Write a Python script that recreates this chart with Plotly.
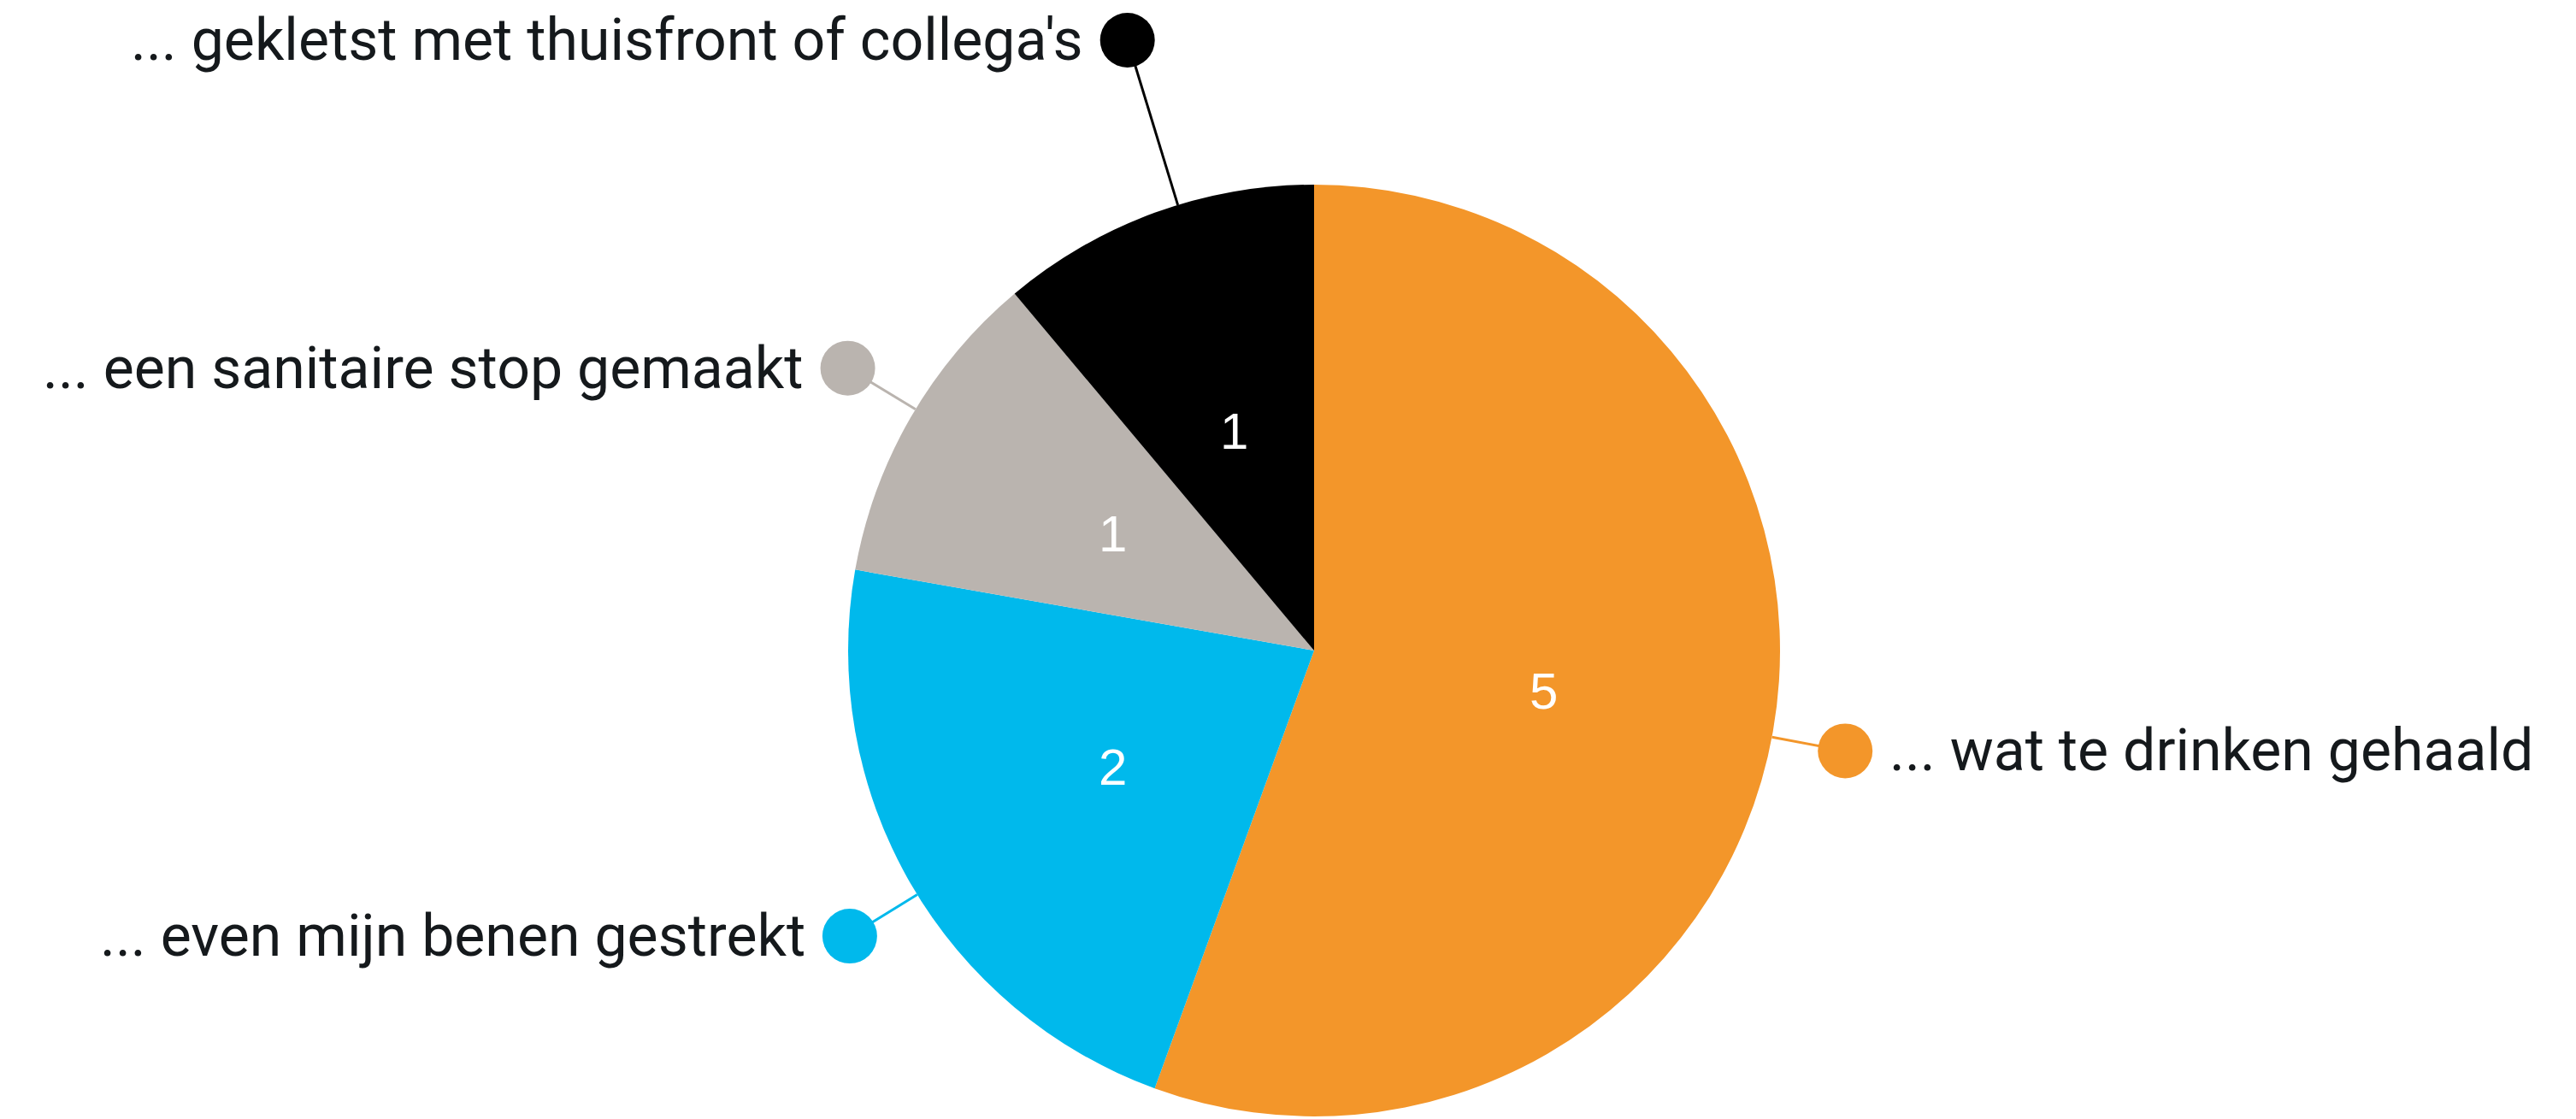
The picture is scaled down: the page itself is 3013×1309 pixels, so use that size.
import math
import plotly.graph_objects as go

# Survey answers: what people did during their break
labels = [
    "... wat te drinken gehaald",
    "... even mijn benen gestrekt",
    "... een sanitaire stop gemaakt",
    "... gekletst met thuisfront of collega's",
]
counts = [5, 2, 1, 1]
colors = ["#F3962A", "#00B9EC", "#BAB4AF", "#000000"]

W, H = 3013, 1309
CX, CY, R = 1537, 761, 545  # pie centre and radius in pixels

# distance of each label dot from the centre, as a multiple of the radius,
# plus a small angular nudge (degrees) so labels clear each other
dot_radius = [1.16, 1.17, 1.17, 1.37]
dot_nudge = [0.7, -1.6, 1.2, 3.0]
DOT_R = 32
TEXT_GAP = 18


def px(x, y):
    """pixel position -> paper coordinates"""
    return x / W, 1 - y / H


def polar(angle_deg, r):
    a = math.radians(angle_deg)
    return CX + r * math.sin(a), CY - r * math.cos(a)


fig = go.Figure(
    go.Pie(
        values=counts,
        labels=labels,
        sort=False,
        direction="clockwise",
        rotation=0,
        marker=dict(colors=colors, line=dict(width=0)),
        textinfo="none",
        hoverinfo="label+value",
        showlegend=False,
        domain=dict(
            x=[(CX - R) / W, (CX + R) / W],
            y=[1 - (CY + R) / H, 1 - (CY - R) / H],
        ),
    )
)

total = sum(counts)
shapes, annotations = [], []
cum = 0
for lab, val, col, rf, nudge in zip(labels, counts, colors, dot_radius, dot_nudge):
    mid = (cum + val / 2) / total * 360
    cum += val

    # value inside the slice
    vx, vy = polar(mid, 0.5 * R)
    x0, y0 = px(vx, vy)
    annotations.append(dict(
        x=x0, y=y0, xref="paper", yref="paper", text=str(val), showarrow=False,
        xanchor="center", yanchor="middle",
        font=dict(family="Liberation Sans, Arial, sans-serif", size=60, color="white"),
    ))

    # leader line from the slice edge to the label dot
    ex, ey = polar(mid + nudge, R)
    dx, dy = polar(mid + nudge, rf * R)
    ax0, ay0 = px(ex, ey)
    ax1, ay1 = px(dx, dy)
    shapes.append(dict(type="line", xref="paper", yref="paper",
                       x0=ax0, y0=ay0, x1=ax1, y1=ay1,
                       line=dict(color=col, width=3), layer="above"))
    c0x, c0y = px(dx - DOT_R, dy + DOT_R)
    c1x, c1y = px(dx + DOT_R, dy - DOT_R)
    shapes.append(dict(type="circle", xref="paper", yref="paper",
                       x0=c0x, y0=c0y, x1=c1x, y1=c1y,
                       fillcolor=col, line=dict(width=0), layer="above"))

    # category label beside the dot
    right_side = dx > CX
    tx = dx + DOT_R + TEXT_GAP if right_side else dx - DOT_R - TEXT_GAP
    lx, ly = px(tx, dy)
    annotations.append(dict(
        x=lx, y=ly, xref="paper", yref="paper", text=lab, showarrow=False,
        xanchor="left" if right_side else "right", yanchor="middle",
        font=dict(family="Roboto, sans-serif", size=68, color="#15191c"),
    ))

fig.update_layout(
    width=W, height=H,
    margin=dict(l=0, r=0, t=0, b=0),
    paper_bgcolor="white",
    plot_bgcolor="white",
    shapes=shapes,
    annotations=annotations,
)

fig.write_html("out.html")
